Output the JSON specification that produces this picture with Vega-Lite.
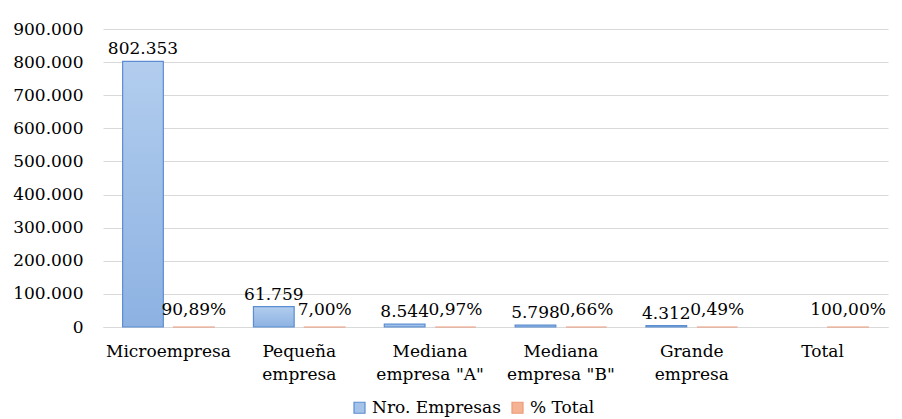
{
  "$schema": "https://vega.github.io/schema/vega-lite/v6.json",
  "width": 785,
  "height": 298,
  "autosize": {"type": "none"},
  "padding": {"left": 103, "top": 29, "right": 14, "bottom": 92},
  "background": "white",
  "config": {
    "locale": {"number": {"decimal": ",", "thousands": ".", "grouping": [3], "currency": ["", ""]}},
    "font": "DejaVu Serif",
    "view": {"stroke": null}
  },
  "data": {
    "values": [
      {"categoria": "Microempresa", "serie": "Nro. Empresas", "valor": 802353},
      {"categoria": "Microempresa", "serie": "% Total", "valor": 0.9089},
      {"categoria": "Pequeña empresa", "serie": "Nro. Empresas", "valor": 61759},
      {"categoria": "Pequeña empresa", "serie": "% Total", "valor": 0.07},
      {"categoria": "Mediana empresa \"A\"", "serie": "Nro. Empresas", "valor": 8544},
      {"categoria": "Mediana empresa \"A\"", "serie": "% Total", "valor": 0.0097},
      {"categoria": "Mediana empresa \"B\"", "serie": "Nro. Empresas", "valor": 5798},
      {"categoria": "Mediana empresa \"B\"", "serie": "% Total", "valor": 0.0066},
      {"categoria": "Grande empresa", "serie": "Nro. Empresas", "valor": 4312},
      {"categoria": "Grande empresa", "serie": "% Total", "valor": 0.0049},
      {"categoria": "Total", "serie": "% Total", "valor": 1.0}
    ]
  },
  "encoding": {
    "x": {
      "field": "categoria",
      "type": "nominal",
      "sort": null,
      "scale": {"paddingInner": 0.3, "paddingOuter": 0.15},
      "axis": {
        "title": null,
        "labelAngle": 0,
        "labelFont": "DejaVu Serif",
        "labelFontSize": 17,
        "labelColor": "#000000",
        "labelPadding": 16,
        "labelLineHeight": 23,
        "labelBaseline": "top",
        "ticks": false,
        "domainColor": "#d9d9d9",
        "domainWidth": 1,
        "labelExpr": "indexof(datum.label, ' ') > 0 ? [substring(datum.label, 0, indexof(datum.label, ' ')), substring(datum.label, indexof(datum.label, ' ') + 1)] : datum.label"
      }
    },
    "xOffset": {
      "field": "serie",
      "type": "nominal",
      "sort": ["Nro. Empresas", "% Total"],
      "scale": {"domain": ["Nro. Empresas", "% Total"], "paddingInner": 0.2, "paddingOuter": 0}
    },
    "y": {
      "field": "valor",
      "type": "quantitative",
      "scale": {"domain": [0, 900000], "nice": false},
      "axis": {
        "title": null,
        "values": [0, 100000, 200000, 300000, 400000, 500000, 600000, 700000, 800000, 900000],
        "format": ",d",
        "labelFont": "DejaVu Serif",
        "labelFontSize": 17,
        "labelColor": "#000000",
        "labelPadding": 20,
        "ticks": false,
        "domain": false,
        "gridColor": "#d9d9d9",
        "gridWidth": 1
      }
    }
  },
  "layer": [
    {
      "transform": [{"filter": "datum.serie == '% Total'"}],
      "mark": {"type": "bar", "strokeWidth": 1.2},
      "encoding": {
        "color": {
          "field": "serie",
          "type": "nominal",
          "sort": ["Nro. Empresas", "% Total"],
          "scale": {"domain": ["Nro. Empresas", "% Total"], "range": ["#a5c3e9", "#f5b394"]},
          "legend": {
            "title": null,
            "orient": "none",
            "direction": "horizontal",
            "legendX": 248,
            "legendY": 370,
            "symbolType": "square",
            "symbolSize": 121,
            "symbolStrokeWidth": 1.2,
            "labelFont": "DejaVu Serif",
            "labelFontSize": 17,
            "labelColor": "#000000",
            "labelOffset": 4,
            "columnPadding": 8
          }
        },
        "stroke": {
          "field": "serie",
          "type": "nominal",
          "sort": ["Nro. Empresas", "% Total"],
          "scale": {"domain": ["Nro. Empresas", "% Total"], "range": ["#5b8dd2", "#ec9a78"]}
        }
      }
    },
    {
      "transform": [{"filter": "datum.serie == 'Nro. Empresas'"}],
      "mark": {
        "type": "bar",
        "strokeWidth": 1.2,
        "stroke": "#5b8dd2",
        "color": {"gradient": "linear", "x1": 0, "y1": 0, "x2": 0, "y2": 1, "stops": [{"offset": 0, "color": "#b2cdee"}, {"offset": 1, "color": "#8db2e2"}]}
      },
      "encoding": {}
    },
    {
      "transform": [{"filter": "datum.serie == 'Nro. Empresas'"}],
      "mark": {"type": "text", "font": "DejaVu Serif", "baseline": "alphabetic", "dy": -7, "fontSize": 17, "color": "#000000"},
      "encoding": {"text": {"field": "valor", "type": "quantitative", "format": ",d"}}
    },
    {
      "transform": [{"filter": "datum.serie == '% Total'"}],
      "mark": {"type": "text", "font": "DejaVu Serif", "baseline": "alphabetic", "dy": -12, "fontSize": 17, "color": "#000000"},
      "encoding": {"text": {"field": "valor", "type": "quantitative", "format": ".2%"}}
    }
  ]
}
